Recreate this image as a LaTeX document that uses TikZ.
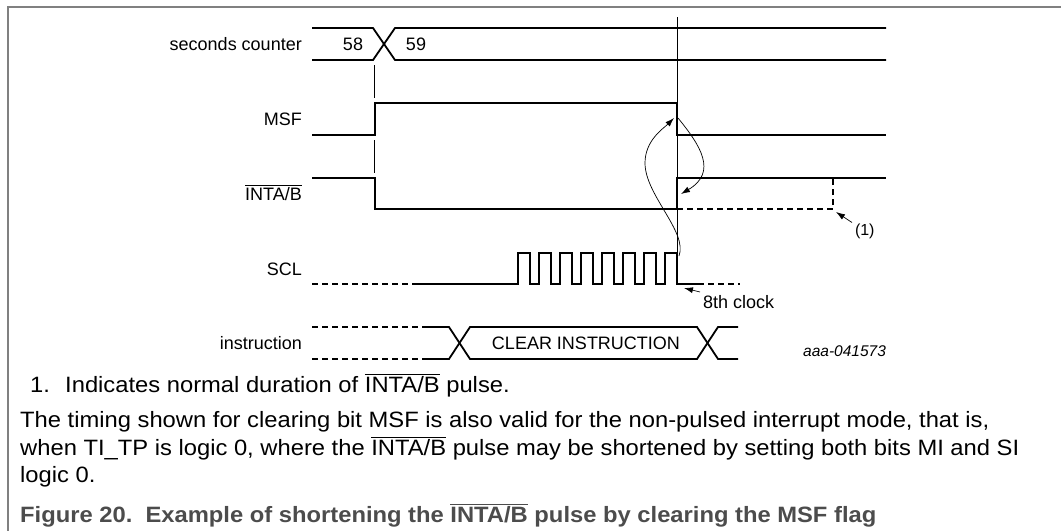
\documentclass[tikz,border=0pt]{standalone}
\usepackage{fontspec}
\setmainfont{Liberation Sans}
\newfontfamily\bodyfont[FakeStretch=1.07]{Liberation Sans}
\usetikzlibrary{arrows.meta}
\definecolor{framegray}{rgb}{0.5, 0.5, 0.5}
\definecolor{captiongray}{rgb}{0.3, 0.3, 0.3}
\newcommand{\ovl}[1]{$\overline{\mbox{#1}}$}

\begin{document}
\begin{tikzpicture}[x=1pt, y=-1pt,
        sig/.style={line width=1.8pt, line join=miter},
        dsig/.style={sig, dash pattern=on 6pt off 4pt},
        guide/.style={line width=0.7pt},
        ptr/.style={line width=0.7pt, -{Latex[length=9pt, width=6pt]}},
        lbl/.style={anchor=base east, inner sep=0pt, font=\fontsize{18}{20}\selectfont},
        txt/.style={anchor=base, inner sep=0pt, font=\fontsize{18}{20}\selectfont},
        note/.style={anchor=base west, inner sep=0pt, outer sep=3pt, font=\fontsize{18}{20}\selectfont},
        body/.style={anchor=base west, inner sep=0pt, font=\bodyfont\fontsize{22.2}{26}\selectfont}]
        \useasboundingbox (0, 0) rectangle (1061, 531);
        \draw [line width=1.2pt, color=framegray] (1061, 7) -- (8, 7) -- (8, 531);

        % signal names
        \node [lbl] (Lsec) at (302, 50) {seconds counter};
        \node [lbl] (Lmsf) at (302, 125) {MSF};
        \node [lbl] (Linta) at (302, 200) {\ovl{INTA/B}};
        \node [lbl] (Lscl) at (302, 275) {SCL};
        \node [lbl] (Linst) at (302, 349) {instruction};

        % seconds counter
        \draw [sig] (312, 28) -- (373, 28) -- (395, 60) -- (886, 60);
        \draw [sig] (312, 60) -- (373, 60) -- (395, 28) -- (886, 28);
        \node [txt] (T58) at (353, 50) {58};
        \node [txt] (T59) at (416, 50) {59};

        % MSF
        \draw [sig] (312, 135) -- (375, 135) -- (375, 103) -- (677, 103) -- (677, 135) -- (886, 135);

        % INTA/B
        \draw [sig] (312, 178) -- (375, 178) -- (375, 209) -- (677, 209) -- (677, 178) -- (886, 178);
        \draw [dsig] (677, 209) -- (833, 209) -- (833, 178);

        % SCL
        \draw [dsig] (312, 284) -- (415, 284);
        \draw [sig] (415, 284) -- (518, 284)
            \foreach \i in {0,...,7} {
                -- ({518+21*\i}, 284) -- ({518+21*\i}, 253) -- ({530+21*\i}, 253) -- ({530+21*\i}, 284)
            } -- (698, 284);
        \draw [dsig] (698, 284) -- (740, 284);

        % instruction
        \draw [dsig] (312, 327) -- (427, 327);
        \draw [dsig] (312, 359) -- (427, 359);
        \draw [sig] (427, 327) -- (449, 327) -- (470, 359) -- (697, 359) -- (718, 327) -- (738, 327);
        \draw [sig] (427, 359) -- (449, 359) -- (470, 327) -- (697, 327) -- (718, 359) -- (738, 359);
        \node [txt] (Tclr) at (586, 349) {CLEAR INSTRUCTION};

        % timing references
        \draw [guide] (374, 65) -- (374, 98);
        \draw [guide] (374, 140) -- (374, 173);
        \draw [guide] (677, 17) -- (677, 253);

        % cause and effect
        \coordinate (Cscl) at (679, 256);
        \coordinate (Cmsf) at (674, 118);
        \coordinate (Cmsfb) at (678, 118);
        \coordinate (Cinta) at (681, 194);
        \draw [ptr] (Cscl) .. controls (688, 232) and (645, 195) .. (645, 163) .. controls (645, 140) and (664, 128) .. (Cmsf);
        \draw [ptr] (Cmsfb) .. controls (700, 145) and (718, 172) .. (Cinta);

        % annotations
        \node [note] (Tclk) at (700, 308) {8th clock};
        \coordinate (Cclk) at (684, 288);
        \draw [ptr] (Tclk) -- (Cclk);
        \node [note, font=\fontsize{16}{18}\selectfont] (Tone) at (852, 235) {(1)};
        \coordinate (Cone) at (836, 212);
        \draw [ptr] (Tone) -- (Cone);
        \node [anchor=base west, inner sep=0pt, font=\fontsize{15.5}{18}\selectfont\itshape] (Tref) at (803, 356) {aaa-041573};

        % notes below the figure
        \node [body] (Fn) at (30, 392) {1.};
        \node [body] (FnText) at (65, 392) {Indicates normal duration of \ovl{INTA/B} pulse.};
        \node [body] (P1) at (20, 427) {The timing shown for clearing bit MSF is also valid for the non-pulsed interrupt mode, that is,};
        \node [body] (P2) at (20, 455) {when TI\_TP is logic 0, where the \ovl{INTA/B} pulse may be shortened by setting both bits MI and SI};
        \node [body] (P3) at (20, 482) {logic 0.};
        \node [body, font=\bodyfont\fontsize{22.2}{26}\selectfont\bfseries, text=captiongray] (Cap) at (20, 522) {Figure 20.\ \ Example of shortening the \ovl{INTA/B} pulse by clearing the MSF flag};
    \end{tikzpicture}
\end{document}
